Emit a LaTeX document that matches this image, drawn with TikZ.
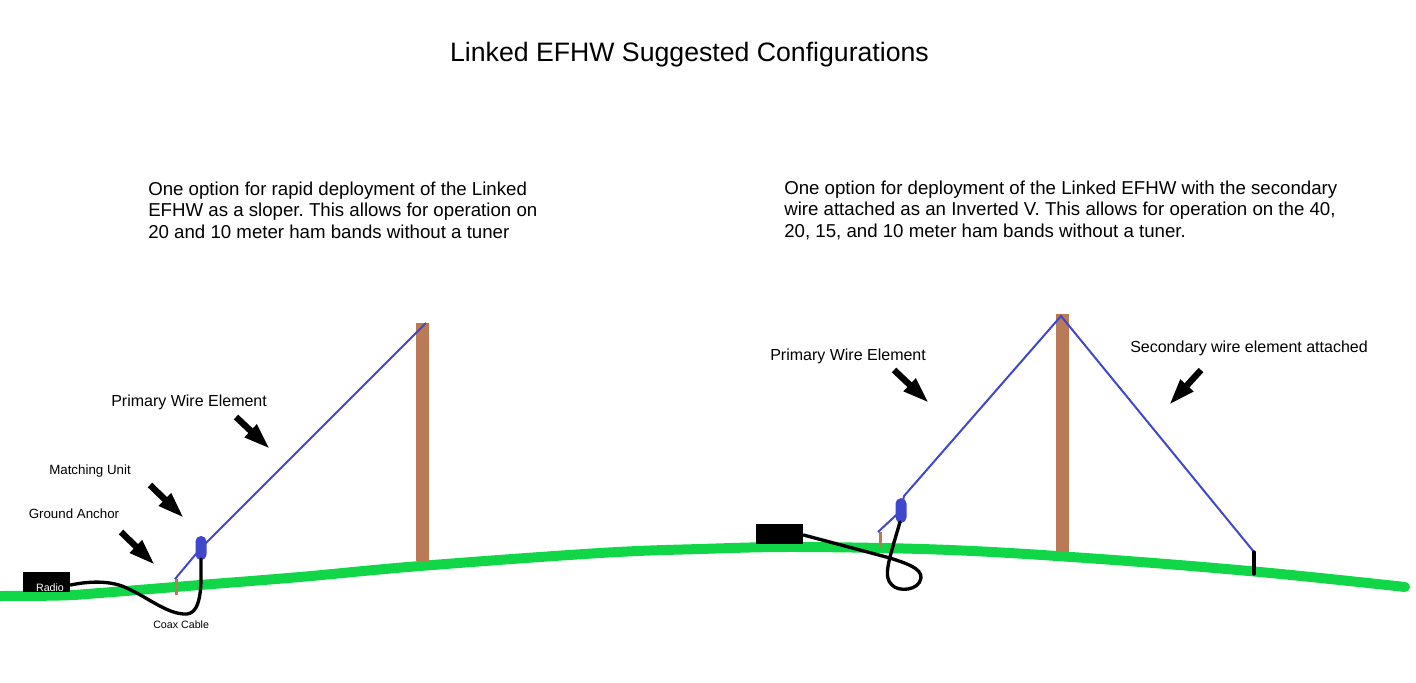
\documentclass[tikz,border=0pt]{standalone}
\usepackage{fontspec}
\setmainfont{Liberation Sans}
\frenchspacing
\usetikzlibrary{arrows.meta}
\definecolor{grassc}{HTML}{10D648}
\definecolor{wirec}{HTML}{3F48CC}
\definecolor{polec}{HTML}{B97A57}
\tikzset{x=0.75pt,y=-0.75pt,
 grass/.style={draw=grassc,line width=7.5pt,line cap=round},
 wire/.style={draw=wirec,line width=1.5pt},
 coax/.style={draw=black,line width=2.5pt,line cap=round},
 pole/.style={fill=polec,draw=none},
 unit/.style={fill=wirec,draw=none,rounded corners=4pt},
 box/.style={fill=black,draw=none},
 pointer/.style={draw=black,line width=4.8pt,-{Triangle[length=20pt,width=12pt]}},
 lab/.style={anchor=west,inner sep=0pt,font=\fontsize{12pt}{14pt}\selectfont},
 smalllab/.style={anchor=west,inner sep=0pt,font=\fontsize{10pt}{12pt}\selectfont},
 tinylab/.style={anchor=west,inner sep=0pt,font=\fontsize{8pt}{10pt}\selectfont},
 para/.style={anchor=north west,inner sep=0pt,align=left,font=\fontsize{14pt}{16.1pt}\selectfont}}
\begin{document}
\begin{tikzpicture}
\useasboundingbox (0,0) rectangle (1416,682);
% ground
\draw[grass] plot[smooth,tension=0.6] coordinates {(-6,596) (60,595.5) (100,593) (200,585) (300,577) (420,566) (600,553) (700,549) (800,547) (950,550) (1100,559) (1260,572) (1405,587)};
% title
\node[anchor=center,inner sep=0pt,font=\fontsize{20pt}{24pt}\selectfont] (title) at (689.5,55) {Linked EFHW Suggested Configurations};
\node[para] (left) at (148,181.5) {One option for rapid deployment of the Linked\\EFHW as a sloper. This allows for operation on\\20 and 10 meter ham bands without a tuner};
\node[para] (right) at (784,180.5) {One option for deployment of the Linked EFHW with the secondary\\wire attached as an Inverted V. This allows for operation on the 40,\\20, 15, and 10 meter ham bands without a tuner.};
% left poles
\fill[pole] (416,323) rectangle (429,561);
\fill[pole] (175,579) rectangle (177.5,595);
% left box
\node[box,anchor=north west,minimum width=35.25pt,minimum height=15pt,inner sep=0pt] (radioL) at (23,572) {};
\node[inner sep=0pt,text=white,font=\fontsize{8pt}{10pt}\selectfont] (radiotxt) at (50,587.5) {Radio};
% left wire
\coordinate (gl) at (175,579);
\coordinate (tl) at (426,323);
\node[unit,minimum width=8.25pt,minimum height=18pt,inner sep=0pt] (ml) at (201,548) {};
\draw[wire] (gl) -- (ml.center);
\draw[wire] (ml.center) -- (tl);
\draw[coax] (radioL.east |- 0,585) .. controls (85,582) and (105,580) .. (122,586) .. controls (147,596) and (167,615) .. (187,614) .. controls (203,612) and (201,580) .. (201,559);
% left labels
\node[lab] (pl) at (111,402) {Primary Wire Element};
\node[smalllab] (mlab) at (49,471) {Matching Unit};
\node[smalllab] (glab) at (28.5,513.5) {Ground Anchor};
\node[tinylab] (clab) at (153,625) {Coax Cable};
\coordinate (a1s) at (236,417); \coordinate (a1e) at (270,449);
\coordinate (a2s) at (150,485); \coordinate (a2e) at (184,518);
\coordinate (a3s) at (121,532); \coordinate (a3e) at (155,565);
\coordinate (a4s) at (894,370); \coordinate (a4e) at (929,403);
\coordinate (a5s) at (1201,370); \coordinate (a5e) at (1169,405);
\draw[pointer] (a1s) -- (a1e);
\draw[pointer] (a2s) -- (a2e);
\draw[pointer] (a3s) -- (a3e);
\draw[pointer] (a4s) -- (a4e);
\draw[pointer] (a5s) -- (a5e);
% right
\fill[pole] (1056,314) rectangle (1069,552);
\fill[pole] (879,532) rectangle (881.5,548);
\node[box,anchor=north west,minimum width=35.25pt,minimum height=15pt,inner sep=0pt] (radioR) at (756,524) {};
\coordinate (gr) at (878,532);
\coordinate (tr) at (1061,316);
\coordinate (er) at (1254,552);
\coordinate (ee) at (1254,574);
\node[unit,minimum width=8.25pt,minimum height=18.5pt,inner sep=0pt] (mr) at (901,510.5) {};
\draw[wire] (gr) -- (mr.center);
\draw[wire] (mr.center) -- (904,496) -- (tr) -- (er);
\draw[coax] (er) -- (ee);
\draw[coax] (radioR.east |- 0,535) -- (890,558) .. controls (905,563) and (922,568) .. (921,578) .. controls (919,591) and (898,592) .. (892,585) .. controls (883,577) and (888,563) .. (900,522);
\node[lab] (pr) at (770,356) {Primary Wire Element};
\node[lab] (sr) at (1130,348) {Secondary wire element attached};
\end{tikzpicture}
\end{document}
